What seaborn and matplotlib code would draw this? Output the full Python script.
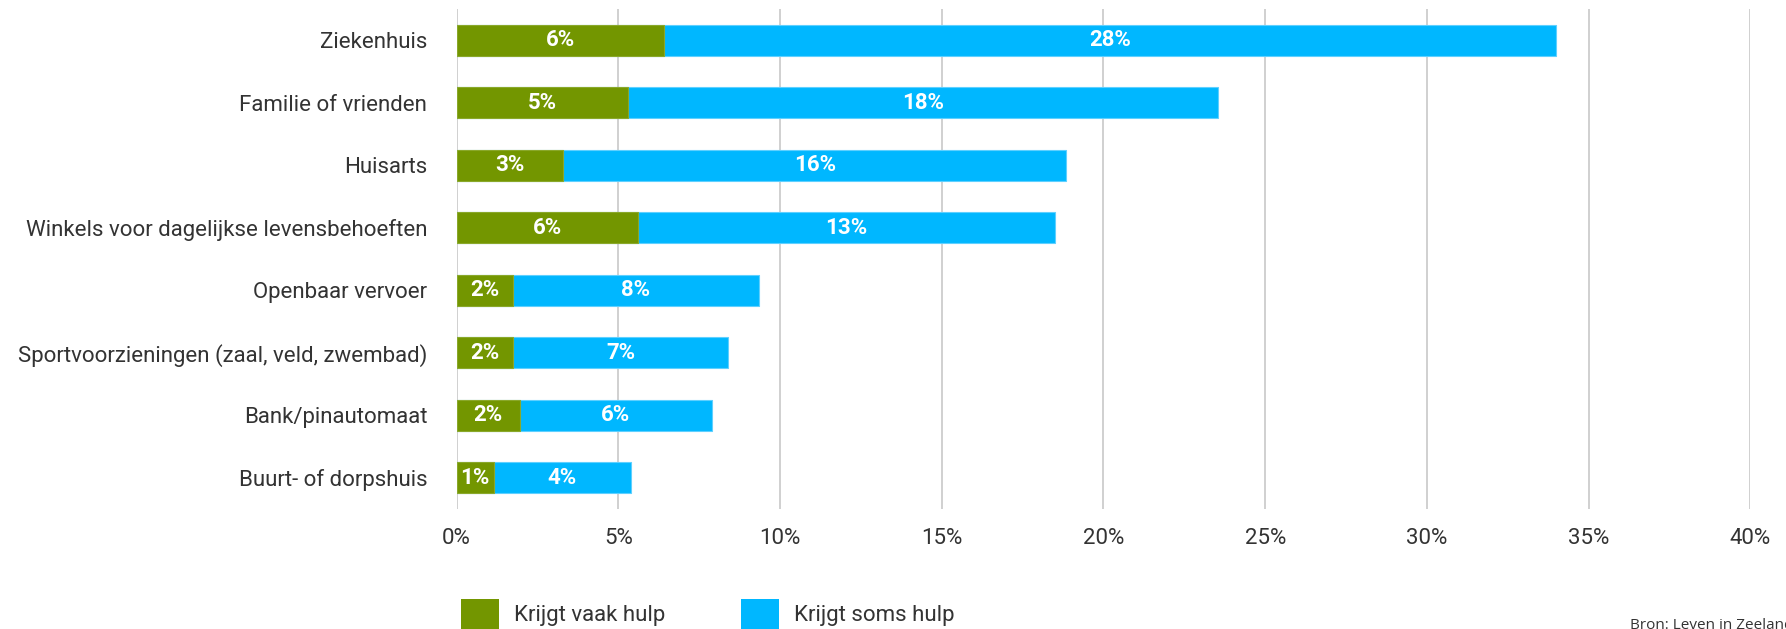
import numpy as np
import pandas as pd
import matplotlib
matplotlib.use("Agg")
import matplotlib.pyplot as plt
from matplotlib.patches import Patch
from matplotlib.ticker import PercentFormatter
import seaborn as sns

# data
categories = [
    "Ziekenhuis",
    "Familie of vrienden",
    "Huisarts",
    "Winkels voor dagelijkse levensbehoeften",
    "Openbaar vervoer",
    "Sportvoorzieningen (zaal, veld, zwembad)",
    "Bank/pinautomaat",
    "Buurt- of dorpshuis",
]
vaak = [6.4, 5.3, 3.3, 5.6, 1.75, 1.75, 1.95, 1.15]
soms = [27.6, 18.25, 15.55, 12.9, 7.6, 6.65, 5.95, 4.25]
legend_labels = ["Krijgt vaak hulp", "Krijgt soms hulp"]
bron = "Bron: Leven in Zeeland"

green = "#739600"
blue = "#00B7FF"
text_col = "#333333"

df = pd.DataFrame({"cat": categories, "vaak": vaak, "soms": soms})
df["totaal"] = df["vaak"] + df["soms"]

sns.set_theme(style="white")
plt.rcParams["font.family"] = ["Roboto", "DejaVu Sans"]

fig = plt.figure(figsize=(17.86, 6.29), dpi=100)
ax = fig.add_axes([0.2556, 0.1908, 0.7245, 0.7949])

# stacked: total in blue first, then 'vaak' in green on top
sns.barplot(data=df, x="totaal", y="cat", color=blue, width=0.49, orient="h",
            saturation=1, edgecolor="#5fd0ff", linewidth=0.8, ax=ax)
sns.barplot(data=df, x="vaak", y="cat", color=green, width=0.49, orient="h",
            saturation=1, edgecolor="#8aa82a", linewidth=0.8, ax=ax)

# segment labels
for i, (v, s) in enumerate(zip(df["vaak"], df["soms"])):
    ax.text(v / 2, i, f"{v:.0f}%", ha="center", va="center", color="white",
            fontsize=16, fontweight="bold")
    ax.text(v + s / 2, i, f"{s:.0f}%", ha="center", va="center", color="white",
            fontsize=16, fontweight="bold")

ax.set_xlim(0, 40)
ax.set_ylim(7.5, -0.5)
ax.set_xticks(np.arange(0, 41, 5))
ax.xaxis.set_major_formatter(PercentFormatter(xmax=100, decimals=0))
ax.set_xlabel("")
ax.set_ylabel("")
ax.grid(axis="x", color="#c8c8c8", linewidth=1.2)
ax.set_axisbelow(True)
for sp in ax.spines.values():
    sp.set_visible(False)
ax.tick_params(axis="x", length=0, pad=14, labelsize=16, labelcolor=text_col)
ax.tick_params(axis="y", length=0, pad=21, labelsize=16, labelcolor=text_col)

handles = [Patch(facecolor=green, edgecolor="none"), Patch(facecolor=blue, edgecolor="none")]
fig.legend(handles, legend_labels, loc="center left",
           bbox_to_anchor=(461 / 1786, 1 - 614 / 629), ncol=2, frameon=False,
           fontsize=16, handlelength=1.71, handleheight=1.71, handletextpad=0.68,
           columnspacing=3.4, borderpad=0, borderaxespad=0, labelcolor=text_col)

fig.text(1630 / 1786, 1 - 618 / 629, bron, ha="left", va="top", fontsize=11,
         color=text_col, family=["Open Sans", "DejaVu Sans"])

fig.savefig("out.png", dpi=100)
